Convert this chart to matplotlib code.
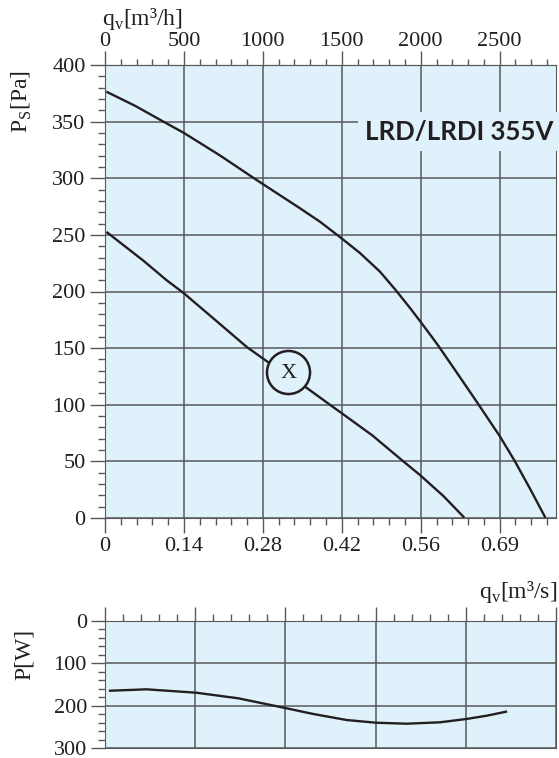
import numpy as np
import matplotlib.pyplot as plt
from matplotlib.ticker import MultipleLocator, FixedLocator, NullFormatter

plt.rcParams['font.family'] = ['Liberation Serif', 'DejaVu Serif']
plt.rcParams['mathtext.fontset'] = 'custom'
plt.rcParams['mathtext.rm'] = 'Liberation Serif'

# flow in m3/h (top scale)
xmax = 2857
qv_hi = [15, 190, 370, 500, 730, 960, 1235, 1362, 1489, 1615, 1742, 1837, 1932,
         1995, 2070, 2112, 2238, 2365, 2502, 2597, 2692, 2787]
ps_hi = [376, 364, 350, 340, 320, 298.5, 273.5, 261.6, 248, 234, 217.5, 202, 185.5,
         174, 160, 152, 126.5, 100.5, 72, 50, 26, 1]
qv_lo = [15, 245, 390, 500, 697, 898, 1024, 1161, 1267, 1425, 1500, 1693, 1890,
         1995, 2143, 2270]
ps_lo = [252, 227, 210, 198.4, 175, 151, 138.5, 126.5, 116, 100, 92.5, 73, 50,
         38, 19.5, 1.2]
qv_pw = [32, 264, 578, 844, 1109, 1320, 1531, 1717, 1911, 2122, 2289, 2418, 2540]
p_w = [164.7, 161.4, 169.4, 182.6, 203, 219.7, 233.9, 240.3, 242.6, 239.3, 231.5, 223.7, 214.3]

top_ticks = [0, 500, 1000, 1500, 2000, 2500]
m3s_labels = ['0', '0.14', '0.28', '0.42', '0.56', '0.69']
marker_x = (1161, 129)   # circled "X" on the lower curve
title = 'LRD/LRDI 355V'

bg = '#dff1fa'
ink = '#231f20'
gridc = '#58595b'
fs = 16

fig = plt.figure(figsize=(5.59, 7.58), dpi=100)

# ---- pressure chart
ax = fig.add_axes([105/559, 1-518/758, 451/559, 453/758])
ax.set_facecolor(bg)
ax.plot(qv_hi, ps_hi, color=ink, lw=1.7, zorder=3, solid_joinstyle='round')
ax.plot(qv_lo, ps_lo, color=ink, lw=1.7, zorder=3, solid_joinstyle='round')
ax.plot([marker_x[0]], [marker_x[1]], marker='o', ms=31, mfc=bg, mec=ink, mew=1.8, zorder=4)
ax.text(marker_x[0], marker_x[1] - 1, 'X', ha='center', va='center', fontsize=16,
        color=ink, zorder=5)

ax.set_xlim(0, xmax)
ax.set_ylim(0, 400)
ax.xaxis.set_major_locator(FixedLocator(top_ticks))
ax.xaxis.set_minor_locator(MultipleLocator(100))
ax.set_xticklabels(m3s_labels)
ax.yaxis.set_major_locator(MultipleLocator(50))
ax.yaxis.set_minor_locator(MultipleLocator(10))
ax.grid(True, which='major', color=gridc, lw=1.1, zorder=1)
ax.set_axisbelow(True)
ax.tick_params(which='major', direction='out', length=11, width=1, colors=gridc,
               labelcolor=ink, labelsize=fs, pad=3)
ax.tick_params(which='minor', direction='out', length=5, width=1, colors=gridc)
ax.tick_params(axis='y', which='both', right=False)
for s in ax.spines.values():
    s.set_color(gridc)

sec = ax.secondary_xaxis('top')
sec.xaxis.set_major_locator(FixedLocator(top_ticks))
sec.xaxis.set_minor_locator(MultipleLocator(100))
sec.tick_params(which='major', direction='out', length=10, width=1, colors=gridc,
                labelcolor=ink, labelsize=fs, pad=0)
sec.tick_params(which='minor', direction='out', length=4, width=1, colors=gridc)
sec.spines['top'].set_color(gridc)

for lab in ax.get_xticklabels() + ax.get_yticklabels() + sec.get_xticklabels():
    lab.set_family('Liberation Serif')

ax.text(0.995, 0.853, title, transform=ax.transAxes, ha='right', va='center',
        fontsize=18.5, fontweight='bold', family='Lato', color=ink, zorder=6,
        bbox=dict(boxstyle='square,pad=0.3', fc=bg, ec='none'))

fig.text(102/559, 1-25/758, 'q$_\\mathrm{v}$[m³/h]', fontsize=17, color=ink, ha='left', va='baseline')
fig.text(22/559, 1-102/758, 'P$_\\mathrm{S}$[Pa]', fontsize=17, color=ink, rotation=90,
         ha='center', va='center')
fig.text(557/559, 1-592/758, 'q$_\\mathrm{v}$[m³/s]', fontsize=17, color=ink, ha='right', va='center')

# ---- power chart
ax2 = fig.add_axes([105/559, 1-748/758, 451/559, 127/758])
ax2.set_facecolor(bg)
ax2.plot(qv_pw, p_w, color=ink, lw=1.7, zorder=3, solid_joinstyle='round')
ax2.set_xlim(0, xmax)
ax2.set_ylim(300, 0)
ax2.xaxis.set_major_locator(FixedLocator(np.linspace(0, xmax, 6)))
ax2.xaxis.set_minor_locator(FixedLocator(np.linspace(0, xmax, 26)))
ax2.xaxis.set_major_formatter(NullFormatter())
ax2.xaxis.tick_top()
ax2.yaxis.set_major_locator(MultipleLocator(100))
ax2.yaxis.set_minor_locator(MultipleLocator(20))
ax2.grid(True, which='major', color=gridc, lw=1.1, zorder=1)
ax2.set_axisbelow(True)
ax2.tick_params(which='major', direction='out', length=10, width=1, colors=gridc,
                labelcolor=ink, labelsize=fs, pad=3)
ax2.tick_params(which='minor', direction='out', length=5, width=1, colors=gridc)
ax2.tick_params(axis='x', which='both', bottom=False, labeltop=False, labelbottom=False)
for lab in ax2.get_yticklabels():
    lab.set_family('Liberation Serif')
for s in ax2.spines.values():
    s.set_color(gridc)
fig.text(24/559, 1-654/758, 'P[W]', fontsize=17, color=ink, rotation=90, ha='center', va='center')

fig.savefig('out.png', dpi=100, facecolor='white')
